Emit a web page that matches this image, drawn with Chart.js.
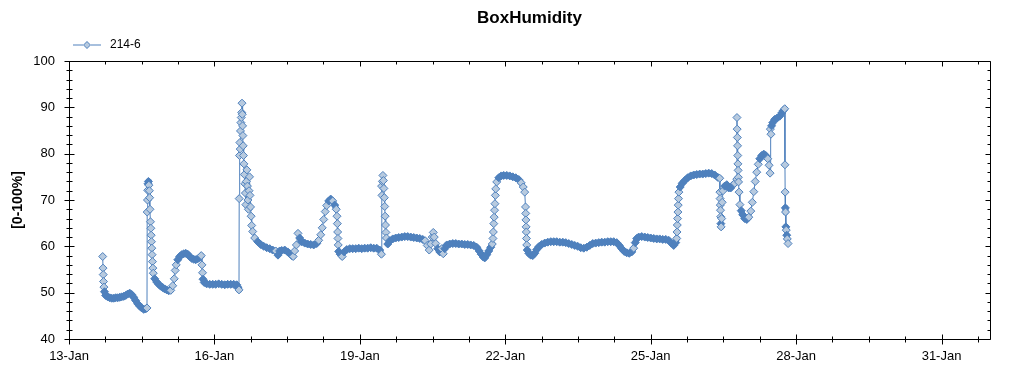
<!DOCTYPE html>
<html>
<head>
<meta charset="utf-8">
<title>BoxHumidity</title>
<script src="https://cdn.jsdelivr.net/npm/chart.js@4.4.1/dist/chart.umd.min.js"></script>
<style>
    html, body { margin: 0; padding: 0; background: #fff; }
    #chart { display: block; }
</style>
</head>
<body>
<canvas id="chart" width="1024" height="375"></canvas>
<script>
// x axis runs in "day of January" units: 13 = 13-Jan 00:00, 32 = 1-Feb 00:00
const xMin = 13;
const xMax = 32;
const xMinorStep = 0.75;
const xMajorDays = [13, 16, 19, 22, 25, 28, 31];
const xMajorLabels = ['13-Jan', '16-Jan', '19-Jan', '22-Jan', '25-Jan', '28-Jan', '31-Jan'];

const yMin = 40;
const yMax = 100;
const yStep = 2;
const yLabelStep = 10;

const seriesName = '214-6';

// sample times (day of January) and readings
const sampleDays = [
    13.695, 13.702, 13.706, 13.712, 13.720, 13.732, 13.757, 13.798, 13.839, 13.881, 13.922, 13.963, 14.005, 14.046,
    14.087, 14.128, 14.170, 14.211, 14.252, 14.293, 14.334, 14.375, 14.417, 14.459, 14.500, 14.541, 14.582, 14.609,
    14.613, 14.619, 14.623, 14.629, 14.638, 14.648, 14.658, 14.664, 14.671, 14.681, 14.689, 14.695, 14.701, 14.708,
    14.714, 14.722, 14.730, 14.739,
    14.768, 14.809, 14.851, 14.892, 14.933, 14.975, 15.016, 15.057, 15.099, 15.140, 15.171, 15.191, 15.212, 15.243,
    15.284, 15.325, 15.367, 15.408, 15.449, 15.490, 15.532, 15.573, 15.614, 15.655, 15.696,
    15.728, 15.743, 15.755, 15.765, 15.790, 15.841, 15.903, 15.965, 16.026, 16.088, 16.150, 16.213, 16.274, 16.336,
    16.398, 16.460, 16.490, 16.507,
    16.511, 16.517, 16.525, 16.532, 16.538, 16.546, 16.554, 16.562, 16.569, 16.575, 16.581, 16.587, 16.593, 16.599,
    16.608, 16.618, 16.628, 16.639, 16.649, 16.659, 16.670, 16.681, 16.691, 16.701, 16.714, 16.724, 16.734, 16.745,
    16.757, 16.769,
    16.790, 16.831, 16.893, 16.954, 17.017, 17.079, 17.141, 17.202, 17.264, 17.311, 17.346, 17.388, 17.450, 17.512,
    17.553, 17.594, 17.625, 17.656, 17.691, 17.724, 17.759, 17.801, 17.863, 17.924, 17.986, 18.048, 18.110, 18.151,
    18.193, 18.224, 18.255, 18.286, 18.316, 18.358, 18.399, 18.440, 18.481, 18.513, 18.529, 18.536, 18.542, 18.548,
    18.554, 18.564, 18.595, 18.636, 18.677, 18.730, 18.792, 18.853, 18.915, 18.977, 19.039, 19.100, 19.162, 19.225,
    19.286, 19.348, 19.410,
    19.445, 19.449, 19.457, 19.466, 19.476, 19.486, 19.496, 19.505, 19.513, 19.521, 19.529, 19.538, 19.548, 19.576,
    19.617, 19.679, 19.740, 19.802, 19.865, 19.926, 19.988, 20.050, 20.112, 20.174, 20.236, 20.298, 20.349, 20.390,
    20.431, 20.462, 20.493, 20.515, 20.535, 20.566, 20.607, 20.649, 20.690, 20.721, 20.751, 20.793, 20.854, 20.917,
    20.979, 21.040, 21.102, 21.164, 21.226, 21.287, 21.349, 21.412, 21.463, 21.504, 21.546, 21.576, 21.618, 21.659,
    21.700, 21.732,
    21.746, 21.754, 21.763, 21.771, 21.779, 21.787, 21.796, 21.804, 21.824, 21.866, 21.917, 21.968, 22.031, 22.093,
    22.155, 22.216, 22.278, 22.329, 22.371, 22.401, 22.418, 22.422, 22.426, 22.430, 22.434, 22.438, 22.443, 22.453,
    22.485, 22.526, 22.567, 22.608, 22.649, 22.691, 22.752, 22.814, 22.877, 22.939, 23.000, 23.062, 23.124, 23.186,
    23.248, 23.310, 23.372, 23.433, 23.495, 23.557, 23.619, 23.681, 23.743, 23.805, 23.866, 23.928, 23.990, 24.053,
    24.114, 24.176, 24.238, 24.299, 24.351, 24.403, 24.455, 24.506, 24.558, 24.609, 24.650, 24.681, 24.712, 24.753,
    24.815, 24.878, 24.939, 25.001, 25.063, 25.125, 25.186, 25.248, 25.311, 25.372, 25.424, 25.475, 25.516,
    25.537, 25.543, 25.549, 25.555, 25.562, 25.568, 25.574, 25.582, 25.609, 25.650, 25.703, 25.764, 25.826, 25.888,
    25.950, 26.011, 26.073, 26.136, 26.197, 26.259, 26.321, 26.383, 26.424, 26.428, 26.432, 26.436, 26.440, 26.444,
    26.448, 26.453, 26.465, 26.475, 26.492, 26.527, 26.569, 26.610, 26.651, 26.692, 26.734,
    26.776, 26.780, 26.784, 26.788, 26.792, 26.796, 26.800, 26.804, 26.809, 26.813, 26.823, 26.841, 26.868, 26.899,
    26.940, 26.982, 27.024, 27.065, 27.096, 27.127, 27.157, 27.188, 27.219, 27.250, 27.291, 27.333, 27.374, 27.415,
    27.442, 27.463, 27.469, 27.481, 27.494, 27.518, 27.559, 27.611, 27.662, 27.704, 27.735, 27.766, 27.770, 27.774,
    27.778, 27.782, 27.789, 27.797, 27.807, 27.818, 27.834
];

const humidity = [
    57.8, 55.3, 53.9, 52.4, 51.2, 50.2, 49.4, 49.1, 48.9, 48.8, 48.8, 48.9, 48.9, 49.0,
    49.1, 49.2, 49.4, 49.7, 49.9, 49.6, 49.0, 48.3, 47.6, 47.1, 46.7, 46.4, 46.5, 46.7,
    67.4, 70.0, 72.1, 73.5, 74.0, 73.2, 72.0, 70.5, 68.0, 65.3, 63.9, 62.4, 61.0, 59.6,
    58.2, 56.7, 55.3, 54.2,
    53.0, 52.3, 51.8, 51.4, 51.1, 50.8, 50.6, 50.4, 50.5, 51.5, 53.0, 54.8, 56.0, 57.1,
    57.8, 58.2, 58.4, 58.5, 58.3, 57.8, 57.4, 57.2, 57.1, 57.3, 57.6,
    58.0, 56.0, 54.3, 52.9, 52.2, 51.9, 51.8, 51.8, 51.8, 51.9, 51.8, 51.7, 51.8, 51.8,
    51.8, 51.7, 51.0, 50.6,
    70.3, 79.6, 82.4, 81.0, 84.9, 86.7, 87.8, 88.9, 90.9, 88.5, 86.0, 83.9, 81.7, 79.6,
    77.8, 75.5, 73.5, 71.5, 69.0, 74.0, 76.5, 73.0, 70.0, 68.0, 72.0, 75.0, 71.0, 68.5,
    66.5, 64.5,
    63.2, 61.8, 61.0, 60.4, 60.0, 59.7, 59.5, 59.2, 59.0, 58.1, 59.0, 59.1, 59.2, 58.8,
    58.4, 58.0, 57.8, 59.0, 60.3, 62.8, 61.8, 61.0, 60.7, 60.5, 60.4, 60.3, 60.6, 61.3,
    62.5, 64.0, 65.8, 67.5, 68.8, 69.8, 70.2, 69.8, 68.9, 68.0, 66.5, 64.9, 63.1, 61.7,
    60.3, 58.9, 58.3, 57.8, 58.8, 59.3, 59.5, 59.5, 59.5, 59.6, 59.5, 59.6, 59.6, 59.7,
    59.6, 59.6, 59.2,
    58.3, 73.0, 71.0, 74.0, 75.3, 74.2, 72.5, 70.5, 68.6, 66.5, 64.6, 63.0, 61.8, 60.5,
    61.2, 61.6, 61.8, 61.9, 62.0, 62.1, 62.1, 62.0, 61.9, 61.8, 61.7, 61.5, 61.2, 60.2,
    59.2, 60.5, 62.0, 63.0, 62.0, 60.6, 59.5, 58.8, 59.5, 58.4, 59.5, 60.3, 60.5, 60.6,
    60.6, 60.5, 60.5, 60.4, 60.4, 60.3, 60.2, 59.8, 59.0, 58.3, 57.7, 57.5, 58.2, 59.0,
    59.8, 60.5,
    61.7, 63.1, 64.9, 66.3, 67.8, 69.2, 71.0, 72.4, 73.9, 74.8, 75.2, 75.3, 75.3, 75.2,
    75.0, 74.8, 74.4, 73.7, 72.8, 71.7, 68.5, 67.1, 65.7, 64.2, 63.1, 61.7, 60.3, 59.2,
    58.5, 58.1, 58.0, 58.5, 59.3, 59.9, 60.4, 60.7, 60.9, 61.0, 61.0, 61.0, 60.9, 60.9,
    60.8, 60.6, 60.4, 60.2, 60.0, 59.7, 59.6, 59.8, 60.2, 60.6, 60.7, 60.8, 60.9, 60.9,
    61.0, 61.0, 61.0, 60.8, 60.2, 59.5, 58.9, 58.6, 58.5, 58.8, 59.6, 60.8, 61.7, 62.0,
    62.1, 62.0, 61.9, 61.8, 61.7, 61.6, 61.6, 61.5, 61.5, 61.3, 60.7, 60.2, 60.8,
    61.7, 63.1, 64.6, 66.0, 67.4, 68.9, 70.3, 71.7, 72.8, 73.6, 74.2, 74.8, 75.2, 75.4,
    75.5, 75.6, 75.6, 75.7, 75.8, 75.7, 75.4, 74.9, 74.7, 71.7, 70.3, 68.9, 67.8, 66.4,
    64.9, 64.2, 66.0, 69.5, 72.0, 73.0, 73.3, 72.6, 72.6, 73.2, 73.6,
    74.5, 87.8, 85.3, 83.5, 81.7, 79.6, 77.8, 76.4, 74.9, 73.9, 71.7, 69.0, 67.7, 66.8,
    66.0, 65.8, 66.3, 67.6, 69.5, 71.8, 74.0, 76.0, 77.7, 78.9, 79.6, 79.9, 79.6, 78.9,
    77.5, 75.8, 85.3, 84.2, 86.0, 86.7, 87.4, 87.7, 88.1, 88.8, 89.3, 89.7, 77.6, 71.7,
    68.3, 67.4, 64.2, 63.5, 62.4, 61.6, 60.6
];

if (sampleDays.length !== humidity.length) {
    console.warn('sampleDays / humidity length mismatch:', sampleDays.length, humidity.length);
}

const lineBlue = '#4f81bd';
const markerLight = '#b7cadf';
const fontFamily = '"Liberation Sans", Arial, sans-serif';
const denseGap = 4.6; // px between neighbours below which the run reads as one solid band

function pixelGap(scales, i) {
    const dx = scales.x.getPixelForValue(sampleDays[i + 1]) - scales.x.getPixelForValue(sampleDays[i]);
    const dy = scales.y.getPixelForValue(humidity[i + 1]) - scales.y.getPixelForValue(humidity[i]);
    return Math.hypot(dx, dy);
}

// markers that are mostly hidden by the next one are drawn solid, like the dense band in the original
function markerFill(ctx) {
    const i = ctx.dataIndex;
    const scales = ctx.chart.scales;
    if (i === undefined || i >= humidity.length - 1 || !scales.x || !scales.y) return markerLight;
    return pixelGap(scales, i) < denseGap ? lineBlue : markerLight;
}

// dense runs get a thick stroke, the jumps between them stay hairline
function segmentWidth(ctx) {
    const gap = Math.hypot(ctx.p1.x - ctx.p0.x, ctx.p1.y - ctx.p0.y);
    return gap < denseGap ? 6 : 1;
}

// legend sample: short line with a diamond in the middle
function legendIcon() {
    const c = document.createElement('canvas');
    c.width = 28;
    c.height = 9;
    const g = c.getContext('2d');
    g.strokeStyle = lineBlue;
    g.lineWidth = 1;
    g.beginPath();
    g.moveTo(0, 4.5);
    g.lineTo(28, 4.5);
    g.stroke();
    g.beginPath();
    g.moveTo(10.5, 4.5);
    g.lineTo(14, 1);
    g.lineTo(17.5, 4.5);
    g.lineTo(14, 8);
    g.closePath();
    g.fillStyle = markerLight;
    g.fill();
    g.stroke();
    return c;
}

// box round the plot with tick marks on all four sides
const frameTicks = {
    id: 'frameTicks',
    afterDraw(chart) {
        const { ctx, chartArea: a, scales: { x, y } } = chart;
        const L = Math.round(a.left) + 0.5;
        const R = Math.round(a.right) + 0.5;
        const T = Math.round(a.top) + 0.5;
        const B = Math.round(a.bottom) + 0.5;
        ctx.save();
        ctx.strokeStyle = '#000';
        ctx.lineWidth = 1;
        ctx.beginPath();
        ctx.rect(L, T, R - L, B - T);

        x.ticks.forEach(t => {
            const px = Math.round(x.getPixelForValue(t.value)) + 0.5;
            const major = xMajorDays.includes(t.value);
            ctx.moveTo(px, B - (major ? 5 : 3));
            ctx.lineTo(px, B + (major ? 5 : 3));
            ctx.moveTo(px, T);
            ctx.lineTo(px, T + (major ? 5 : 3));
        });
        y.ticks.forEach(t => {
            const py = Math.round(y.getPixelForValue(t.value)) + 0.5;
            const major = t.value % yLabelStep === 0;
            ctx.moveTo(L - (major ? 5 : 3), py);
            ctx.lineTo(L + (major ? 5 : 3), py);
            ctx.moveTo(R, py);
            ctx.lineTo(R - (major ? 5 : 3), py);
        });
        ctx.stroke();
        ctx.restore();
    }
};

const points = sampleDays.map((d, i) => ({ x: d, y: humidity[i] }));

new Chart(document.getElementById('chart'), {
    type: 'line',
    data: {
        datasets: [{
            label: seriesName,
            data: points,
            borderColor: lineBlue,
            borderWidth: 1,
            borderJoinStyle: 'round',
            borderCapStyle: 'round',
            segment: { borderWidth: segmentWidth },
            tension: 0,
            pointStyle: 'rectRot',
            pointRadius: 4,
            pointBorderWidth: 1,
            pointBorderColor: lineBlue,
            pointBackgroundColor: markerFill
        }]
    },
    options: {
        responsive: false,
        animation: false,
        events: [],
        layout: { padding: { top: 0, right: 34, bottom: 0, left: 0 } },
        plugins: {
            title: {
                display: true,
                text: 'BoxHumidity',
                fullSize: false,
                color: '#000',
                font: { family: fontFamily, size: 17, weight: 'bold' },
                padding: { top: 8.5, bottom: 9.1 }
            },
            legend: {
                display: true,
                position: 'top',
                align: 'start',
                fullSize: false,
                labels: {
                    usePointStyle: true,
                    pointStyle: legendIcon(),
                    pointStyleWidth: 34,
                    boxHeight: 9,
                    padding: 1,
                    color: '#000',
                    font: { family: fontFamily, size: 12 }
                }
            },
            tooltip: { enabled: false }
        },
        scales: {
            x: {
                type: 'linear',
                min: xMin,
                max: xMax,
                afterBuildTicks: scale => {
                    const ticks = [];
                    for (let i = 0; xMin + i * xMinorStep <= xMax; i++) {
                        ticks.push({ value: xMin + i * xMinorStep });
                    }
                    scale.ticks = ticks;
                },
                afterFit: scale => { scale.height = 36; },
                grid: { display: false, drawTicks: false },
                border: { display: false },
                ticks: {
                    autoSkip: false,
                    maxRotation: 0,
                    padding: 10,
                    color: '#000',
                    font: { family: fontFamily, size: 13 },
                    callback: value => {
                        const k = xMajorDays.indexOf(value);
                        return k >= 0 ? xMajorLabels[k] : '';
                    }
                }
            },
            y: {
                min: yMin,
                max: yMax,
                afterFit: scale => { scale.width = 69; },
                grid: { display: false, drawTicks: false },
                border: { display: false },
                title: {
                    display: true,
                    text: '[0-100%]',
                    color: '#000',
                    font: { family: fontFamily, size: 14, weight: 'bold' },
                    padding: { top: 10, bottom: 0 }
                },
                ticks: {
                    stepSize: yStep,
                    autoSkip: false,
                    padding: 14,
                    color: '#000',
                    font: { family: fontFamily, size: 13 },
                    callback: value => (value % yLabelStep === 0 ? value : '')
                }
            }
        }
    },
    plugins: [frameTicks]
});
</script>
</body>
</html>
